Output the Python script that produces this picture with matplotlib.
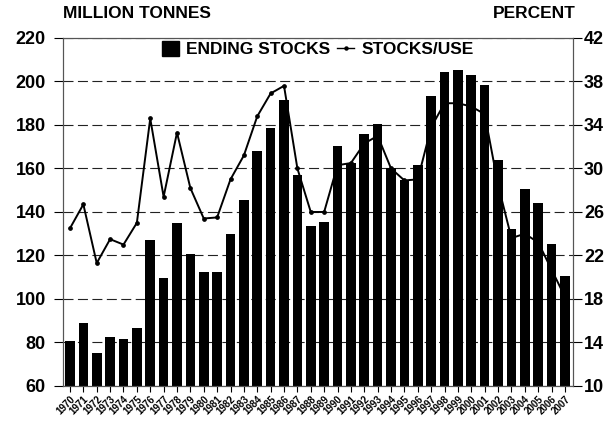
import numpy as np
import matplotlib
matplotlib.use("Agg")
import matplotlib.pyplot as plt
from matplotlib.patches import Patch
from matplotlib.lines import Line2D

plt.rcParams['font.family'] = ['Liberation Sans', 'DejaVu Sans']
plt.rcParams['font.weight'] = 'bold'

years = [str(y) for y in range(1970, 2008)]
stocks = [80.5, 89, 75, 82.5, 81.5, 86.5, 127, 109.5, 135, 120.5,
          112.5, 112.5, 130, 145.5, 168, 178.5, 191.5, 157, 133.5, 135.5,
          170.5, 162.5, 176, 180.5, 160, 154.5, 161.5, 193.5, 204.5, 205.5,
          203, 198.5, 164, 132, 150.5, 144, 125.5, 110.5]
stocks_use = [24.5, 26.7, 21.3, 23.5, 23.0, 25.0, 34.6, 27.4, 33.3, 28.2,
              25.4, 25.5, 29.0, 31.2, 34.8, 36.9, 37.6, 30.0, 26.0, 26.0,
              30.3, 30.5, 32.3, 33.0, 30.0, 28.9, 29.0, 33.8, 36.0, 36.0,
              35.7, 35.0, 28.5, 23.6, 24.0, 23.2, 20.7, 18.2]
left_ticks = list(range(60, 221, 20))
right_ticks = list(range(10, 43, 4))

fig = plt.figure(figsize=(6.13, 4.23), dpi=100)
ax = fig.add_axes([0.1028, 0.0875, 0.8319, 0.8227])
x = np.arange(len(years))

ax.bar(x, stocks, width=0.72, color='black', zorder=2)
ax.set_ylim(60, 220)
ax.set_yticks(left_ticks)
ax.set_xlim(-0.52, len(years) - 0.4)
ax.set_xticks(x)
ax.set_xticklabels(years, rotation=45, ha='right', va='top',
                   rotation_mode='anchor', fontsize=7, fontweight='bold')
ax.yaxis.grid(True, linestyle=(0, (9, 4)), color='#222222', linewidth=0.8, zorder=0)
ax.set_axisbelow(True)
ax.tick_params(axis='y', labelsize=13, length=6.5, width=0.8, pad=6, colors='black')
ax.tick_params(axis='x', length=4, width=0.8, pad=2)
for s in ax.spines.values():
    s.set_color('#555555')
    s.set_linewidth(0.8)

ax2 = ax.twinx()
ax2.plot(x, stocks_use, color='black', linewidth=1.4, marker='o', markersize=2.4, zorder=3)
ax2.set_ylim(10, 42)
ax2.set_yticks(right_ticks)
ax2.tick_params(axis='y', labelsize=13, length=6.5, width=0.8, pad=1.5)
for s in ax2.spines.values():
    s.set_color('#555555')
    s.set_linewidth(0.8)

handles = [Patch(facecolor='black', edgecolor='black'),
           Line2D([], [], color='black', linewidth=1.0, marker='o', markersize=2.2)]
ax.legend(handles, ['ENDING STOCKS', 'STOCKS/USE'], loc='center',
          bbox_to_anchor=(0.5, 0.968), ncol=2, frameon=False,
          prop={'size': 12.5, 'weight': 'bold'}, handlelength=0.95,
          handleheight=1.0, handletextpad=0.45, columnspacing=0.4,
          borderaxespad=0, borderpad=0)

fig.text(0.103, 0.968, 'MILLION TONNES', ha='left', va='center',
         fontsize=12.5, fontweight='bold')
fig.text(0.94, 0.968, 'PERCENT', ha='right', va='center',
         fontsize=12.5, fontweight='bold')

fig.savefig('out.png', dpi=100)
